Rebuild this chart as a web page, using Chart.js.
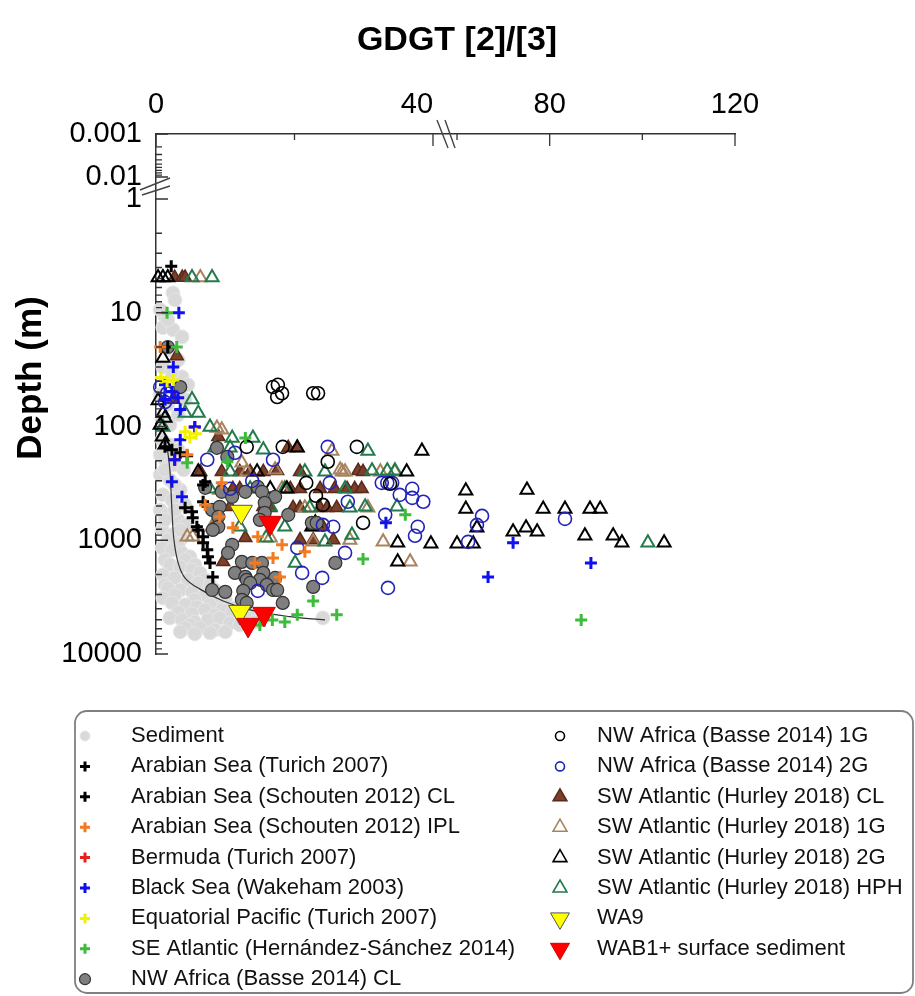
<!DOCTYPE html>
<html>
<head>
<meta charset="utf-8">
<title>GDGT [2]/[3] vs depth</title>
<script src="https://cdn.jsdelivr.net/npm/chart.js@4.4.1/dist/chart.umd.min.js"></script>
<style>
  html, body { margin: 0; padding: 0; background: #fff; }
  #wrap { width: 915px; height: 996px; }
</style>
</head>
<body>
<div id="wrap"><canvas id="depthChart" width="915" height="996"></canvas></div>
<script>
// ---- data: [GDGT 2/3 ratio, depth in m] ----
const sediment = [
  [2.45, 6.7], [2.74, 7.7], [1.3, 10.8], [1.0, 13.5], [2.45, 14.1], [3.75, 16.3], [2.0, 21], [1.0, 30],
  [3.75, 36.6], [4.6, 43], [0.6, 9.4], [1.7, 11.5], [3.2, 26], [2.3, 33], [0.6, 52.6], [1.7, 64],
  [4.2, 58], [3.2, 79], [0.9, 87], [2.0, 97],
  [0.9, 131], [2.0, 145], [3.2, 160], [1.3, 196], [2.7, 217], [4.0, 240], [0.6, 266], [2.0, 294],
  [3.5, 361], [1.0, 399], [2.3, 442], [4.2, 489], [0.6, 541], [1.7, 598], [3.2, 662], [4.3, 733],
  [0.9, 811], [2.3, 897], [3.75, 953], [3.2, 1096], [1.7, 993],
  [1.3, 240], [2.7, 326], [1.3, 662], [2.7, 541], [1.7, 177], [3.5, 811], [0.6, 177],
  [0.9, 1166], [2.3, 1213], [3.75, 1291], [4.9, 1400], [1.3, 1486], [4.2, 1486], [2.0, 1644], [5.6, 1644],
  [3.5, 1714], [5.2, 1820], [6.35, 1936], [1.0, 2014], [2.7, 2143], [4.6, 2228], [7.1, 2228], [6.1, 2371],
  [7.8, 2467], [1.3, 2467], [1.7, 2624], [3.5, 2735], [8.5, 2735], [5.2, 2844], [7.1, 3020], [2.7, 3020],
  [9.0, 3213], [1.0, 3213], [5.6, 3342], [10.0, 3342],
  [2.3, 3556], [4.2, 3698], [5.9, 3855], [7.8, 3698], [11.4, 3936], [9.5, 4093], [7.1, 4093], [11.0, 4266],
  [3.2, 4266], [5.2, 4436], [8.5, 4529], [13.6, 4529], [2.0, 4819], [3.75, 5012], [15.0, 5012], [5.6, 5224],
  [7.5, 5012], [9.2, 4819], [10.7, 5321], [12.1, 5546], [4.9, 5546], [6.35, 5892], [8.5, 6138], [4.2, 5892],
  [10.0, 6383], [3.5, 6383], [5.6, 6650], [7.8, 6515], [12.9, 4720], [24.1, 4819], [14.3, 5224]
];
const trendLine = [
  [1.6, 150], [2.0, 240], [2.3, 541], [2.6, 1000], [3.2, 1580], [4.2, 2150], [6.35, 2690],
  [9.7, 3420], [13.6, 4090], [19.35, 4700], [24.4, 5012]
];
const arabianTurich = [[2.2, 3.9], [1.7, 20], [1.3, 151], [2.3, 160], [3.5, 170], [4.5, 181], [7.1, 306]];
const arabianSchoutenCL = [
  [6.8, 326], [6.8, 459], [4.2, 519], [5.2, 562], [5.3, 635], [5.9, 762], [6.1, 811],
  [6.8, 933], [6.8, 1054], [7.4, 1213], [7.5, 1400], [7.8, 1581], [8.2, 2099]
];
const arabianSchoutenIPL = [
  [0.6, 20], [4.5, 177], [9.5, 313], [7.1, 489], [9.2, 622], [11.1, 778], [14.7, 933],
  [18.2, 1096], [21.5, 1265], [16.9, 1429], [14.3, 1581], [17.9, 2099]
];
const bermuda = [[2.7, 196], [5.6, 101]];
const blackSea = [
  [3.3, 10], [2.5, 30], [1.3, 43], [2.3, 49.5], [3.2, 56], [1.3, 58], [3.5, 71], [5.6, 101],
  [3.5, 131], [2.7, 196], [2.3, 306], [3.75, 415], [33.2, 703], [72.1, 1054], [66.7, 2099], [88.9, 1581]
];
const eqPacific = [[0.7, 37], [1.6, 40], [2.5, 39], [4.2, 111], [5.8, 116], [4.9, 125]];
const seAtlantic = [
  [1.6, 10], [3.0, 20], [12.9, 126], [10.3, 204], [4.5, 208], [36.0, 598], [29.9, 1459],
  [22.7, 3412], [26.1, 4529], [20.4, 4529], [18.6, 5224], [16.8, 5012], [15.0, 5546], [86.8, 5012]
];
const nwAfricaCL = [
  [1.7, 20], [3.5, 45], [8.8, 154], [10.3, 185], [7.1, 346], [9.5, 375], [11.0, 415], [12.9, 375],
  [14.7, 340], [15.3, 375], [17.2, 415], [15.7, 469], [8.1, 541], [9.2, 508], [9.0, 622], [15.7, 574],
  [19.1, 598], [15.0, 662], [22.5, 703], [23.2, 703], [9.0, 762], [8.2, 811], [11.0, 1096], [10.4, 1291],
  [12.4, 1549], [13.9, 1581], [15.3, 1581], [25.9, 1581], [11.4, 1936], [15.5, 1936], [12.9, 2099],
  [17.2, 2143], [13.1, 2228], [15.0, 2228], [16.0, 2467], [13.6, 2371], [22.7, 2570], [16.9, 2735],
  [8.1, 2735], [10.0, 2844], [12.6, 2786], [17.5, 2735], [12.4, 3342], [13.1, 3556], [18.3, 3556]
];
const nwAfrica1G = [
  [16.9, 45], [17.6, 43], [18.2, 51], [17.5, 55], [22.7, 51], [23.4, 51], [13.1, 151], [18.3, 151],
  [29.0, 151], [24.8, 204], [21.7, 313], [23.1, 406], [24.1, 489], [29.9, 703], [33.8, 319]
];
const nwAfrica2G = [
  [0.6, 45], [1.6, 51], [2.0, 55], [1.3, 61], [11.4, 170], [7.4, 196], [16.9, 196], [24.8, 151],
  [10.7, 353], [13.9, 301], [25.1, 313], [32.6, 313], [33.4, 313], [34.1, 313], [35.2, 399], [37.0, 353],
  [37.0, 424], [38.6, 459], [37.8, 762], [37.4, 914], [27.7, 459], [33.1, 598], [25.6, 762], [24.1, 733],
  [20.4, 1166], [27.3, 1291], [21.1, 1936], [24.0, 2143], [14.7, 2786], [33.5, 2624], [62.4, 1033],
  [64.3, 733], [65.4, 611], [83.3, 649]
];
const swAtlanticCL = [
  [2.7, 4.9], [3.8, 4.9], [4.2, 4.9], [3.0, 24], [2.5, 58], [9.0, 123], [19.1, 154], [20.4, 154],
  [6.4, 250], [9.5, 250], [12.1, 250], [13.6, 250], [15.5, 250], [17.5, 245], [20.8, 250], [29.2, 245],
  [29.9, 250], [11.1, 353], [12.1, 353], [14.6, 353], [19.4, 353], [20.8, 353], [23.7, 353], [25.8, 353],
  [27.6, 353], [28.7, 353], [29.7, 353], [10.7, 508], [15.5, 508], [16.5, 519], [19.8, 519], [20.8, 519],
  [23.7, 519], [24.7, 519], [26.1, 519], [22.7, 762], [24.1, 762], [8.2, 762], [20.8, 993], [22.7, 993],
  [25.6, 993], [12.9, 953], [9.7, 1549]
];
const swAtlantic1G = [
  [6.4, 4.9], [8.8, 103], [9.5, 107], [13.1, 250], [12.4, 208], [17.2, 240], [25.4, 164], [26.9, 250],
  [27.3, 250], [26.6, 240], [4.5, 933], [5.3, 933], [8.1, 762], [22.7, 1033], [30.6, 519], [32.8, 1033],
  [36.7, 1549], [18.2, 353], [21.5, 519], [16.5, 953], [28.0, 993], [32.4, 250], [34.5, 250], [9.2, 361]
];
const swAtlantic2G = [
  [0.3, 4.9], [1.0, 4.9], [1.7, 4.9], [1.0, 25], [0.3, 59], [1.0, 76], [1.3, 84], [0.6, 97], [0.9, 123],
  [1.3, 145], [6.1, 250], [14.6, 250], [16.5, 353], [18.9, 353], [20.4, 154], [22.5, 762], [23.0, 703],
  [36.2, 250], [38.4, 164], [34.9, 1054], [34.9, 1549], [39.7, 1076], [60.0, 1076], [63.5, 1076],
  [61.9, 368], [61.9, 530], [64.3, 778], [75.1, 361], [78.6, 530], [83.3, 530], [88.7, 530], [90.9, 530],
  [72.1, 843], [74.9, 778], [77.3, 843], [87.6, 914], [93.7, 914], [95.6, 1054], [104.7, 1054]
];
const swAtlanticHPH = [
  [5.2, 4.9], [8.1, 4.9], [5.2, 58], [4.2, 76], [6.1, 76], [1.0, 101], [7.8, 101], [11.0, 126],
  [14.0, 126], [15.5, 160], [30.6, 164], [21.5, 250], [24.4, 250], [31.2, 245], [33.4, 245], [34.5, 245],
  [30.2, 508], [34.8, 508], [28.3, 897], [20.1, 1581], [24.4, 1033], [10.7, 250], [7.8, 353], [13.6, 353],
  [16.5, 508], [18.6, 762], [12.1, 762], [15.9, 953], [101.2, 1054], [8.5, 154], [10.7, 154], [27.3, 353],
  [18.6, 353], [22.2, 519], [28.0, 519]
];
const wa9 = [[12.3, 562], [12.1, 4266]];
const wab1 = [[16.5, 703], [15.6, 4436], [13.3, 5546]];

const xTicks = [0, 40, 80, 120];
const xTickLabels = ['0', '40    ', '80', '120'];
const xMinorTicks = [20, 60, 100];
const yTicks = [0.001, 0.01, 1, 10, 100, 1000, 10000];
const yTickLabels = ['0.001', '0.01', '1', '10', '100', '1000', '10000'];

// broken axes: [value, fraction of axis length]; y works in log10(depth)
const X_BREAKS = [[0, 0], [40, 0.4784], [60, 0.5199], [120, 1]];
const Y_BREAKS = [[-3, 0], [-2, 0.0827], [0, 0.125], [4, 1]];

function piece(br, v) {
  for (let i = 0; i < br.length - 1; i++) {
    if (v <= br[i + 1][0] || i === br.length - 2) {
      const [v0, f0] = br[i], [v1, f1] = br[i + 1];
      return f0 + (v - v0) / (v1 - v0) * (f1 - f0);
    }
  }
  return 0;
}
function unpiece(br, f) {
  for (let i = 0; i < br.length - 1; i++) {
    if (f <= br[i + 1][1] || i === br.length - 2) {
      const [v0, f0] = br[i], [v1, f1] = br[i + 1];
      return v0 + (f - f0) / (f1 - f0) * (v1 - v0);
    }
  }
  return 0;
}

class BrokenScale extends Chart.LinearScale {
  static id = 'broken';
  buildTicks() {
    return (this.axis === 'x' ? xTicks : yTicks).map(v => ({ value: v }));
  }
  getPixelForValue(value) {
    const f = this.axis === 'x' ? piece(X_BREAKS, value) : piece(Y_BREAKS, Math.log10(value));
    return this.getPixelForDecimal(f);
  }
  getValueForPixel(pixel) {
    const f = this.getDecimalForPixel(pixel);
    return this.axis === 'x' ? unpiece(X_BREAKS, f) : Math.pow(10, unpiece(Y_BREAKS, f));
  }
}
Chart.register(BrokenScale);

const FONT = '"Liberation Sans", Arial, Helvetica, sans-serif';
Chart.defaults.font.family = FONT;
Chart.defaults.color = '#000';

const series = [
  { label: 'Sediment', data: sediment, style: 'circle', r: 7, fill: '#d9d9d9', stroke: '#e6e6e6', lw: 1, lr: 5, order: 100 },
  { label: 'Arabian Sea (Turich 2007)', data: arabianTurich, style: 'cross', r: 6, stroke: '#000', lw: 3, lr: 5, order: 30 },
  { label: 'Arabian Sea (Schouten 2012) CL', data: arabianSchoutenCL, style: 'cross', r: 6, stroke: '#000', lw: 3, lr: 5, order: 29 },
  { label: 'Arabian Sea (Schouten 2012) IPL', data: arabianSchoutenIPL, style: 'cross', r: 6, stroke: '#f47a20', lw: 3, lr: 5, order: 28 },
  { label: 'Bermuda (Turich 2007)', data: bermuda, style: 'cross', r: 6, stroke: '#e8201c', lw: 3, lr: 5, order: 95 },
  { label: 'Black Sea (Wakeham 2003)', data: blackSea, style: 'cross', r: 6, stroke: '#1010ee', lw: 3, lr: 5, order: 27 },
  { label: 'Equatorial Pacific (Turich 2007)', data: eqPacific, style: 'cross', r: 6, stroke: '#f2f200', lw: 3, lr: 5, order: 26 },
  { label: 'SE Atlantic (Hernández-Sánchez 2014)', data: seAtlantic, style: 'cross', r: 6, stroke: '#3dbb3d', lw: 3, lr: 5, order: 25 },
  { label: 'NW Africa (Basse 2014) CL', data: nwAfricaCL, style: 'circle', r: 6.5, fill: '#7f7f7f', stroke: '#333', lw: 1.2, lr: 5.5, order: 40 },
  { label: 'NW Africa (Basse 2014) 1G', data: nwAfrica1G, style: 'circle', r: 6.5, fill: 'rgba(0,0,0,0)', stroke: '#000', lw: 1.6, lr: 4.5, order: 35 },
  { label: 'NW Africa (Basse 2014) 2G', data: nwAfrica2G, style: 'circle', r: 6.5, fill: 'rgba(0,0,0,0)', stroke: '#2323b8', lw: 1.6, lr: 4.5, order: 36 },
  { label: 'SW Atlantic (Hurley 2018) CL', data: swAtlanticCL, style: 'triangle', r: 7.5, fill: '#7b3f2b', stroke: '#5a2a1a', lw: 1.5, lr: 8, order: 60 },
  { label: 'SW Atlantic (Hurley 2018) 1G', data: swAtlantic1G, style: 'triangle', r: 7.5, fill: 'rgba(0,0,0,0)', stroke: '#a8835f', lw: 2, lr: 8, order: 58 },
  { label: 'SW Atlantic (Hurley 2018) 2G', data: swAtlantic2G, style: 'triangle', r: 7.5, fill: 'rgba(0,0,0,0)', stroke: '#000', lw: 2, lr: 8, order: 55 },
  { label: 'SW Atlantic (Hurley 2018) HPH', data: swAtlanticHPH, style: 'triangle', r: 7.5, fill: 'rgba(0,0,0,0)', stroke: '#237a4c', lw: 2, lr: 8, order: 57 },
  { label: 'WA9', data: wa9, style: 'triangle', r: 13, rot: 180, fill: '#ffff00', stroke: '#555', lw: 1, lr: 11, order: 2 },
  { label: 'WAB1+ surface sediment', data: wab1, style: 'triangle', r: 13, rot: 180, fill: '#ff0000', stroke: '#d00000', lw: 1, lr: 11, order: 1 }
];

const datasets = series.map(s => ({
  label: s.label,
  data: s.data,
  pointStyle: s.style,
  pointRadius: s.r,
  pointRotation: s.rot || 0,
  backgroundColor: s.fill || s.stroke,
  borderColor: s.stroke,
  borderWidth: s.lw,
  order: s.order,
  clip: false,
  legendRadius: s.lr
}));
datasets.push({
  label: 'trend',
  data: trendLine,
  showLine: true,
  pointRadius: 0,
  borderColor: '#333',
  borderWidth: 1.2,
  tension: 0.4,
  order: 90
});

function drawMarker(ctx, style, x, y, r, fill, stroke, lw, rot) {
  ctx.save();
  ctx.translate(x, y);
  ctx.rotate((rot || 0) * Math.PI / 180);
  ctx.beginPath();
  if (style === 'circle') {
    ctx.arc(0, 0, r, 0, Math.PI * 2);
  } else if (style === 'cross') {
    ctx.moveTo(0, -r); ctx.lineTo(0, r);
    ctx.moveTo(-r, 0); ctx.lineTo(r, 0);
  } else {
    for (let k = 0; k < 3; k++) {
      const a = k * 2 * Math.PI / 3;
      const px = Math.sin(a) * r, py = -Math.cos(a) * r;
      if (k === 0) ctx.moveTo(px, py); else ctx.lineTo(px, py);
    }
    ctx.closePath();
  }
  if (fill && style !== 'cross') { ctx.fillStyle = fill; ctx.fill(); }
  if (lw) { ctx.lineWidth = lw; ctx.strokeStyle = stroke; ctx.stroke(); }
  ctx.restore();
}

const axisDecor = {
  id: 'axisDecor',
  afterDatasetsDraw(chart) {
    const { ctx, chartArea: a, scales: { x, y } } = chart;
    ctx.save();
    ctx.strokeStyle = '#333';
    ctx.lineWidth = 1.3;
    ctx.beginPath();
    xTicks.forEach(v => { const p = x.getPixelForValue(v); ctx.moveTo(p, a.top); ctx.lineTo(p, a.top + 12); });
    xMinorTicks.forEach(v => { const p = x.getPixelForValue(v); ctx.moveTo(p, a.top); ctx.lineTo(p, a.top + 6); });
    yTicks.forEach(v => { const p = y.getPixelForValue(v); ctx.moveTo(a.left, p); ctx.lineTo(a.left + 12, p); });
    [0.001, 1, 10, 100, 1000].forEach(dec => {
      for (let m = 2; m <= 9; m++) {
        const p = y.getPixelForValue(dec * m);
        ctx.moveTo(a.left, p); ctx.lineTo(a.left + 6, p);
      }
    });
    ctx.stroke();

    // axis breaks
    ctx.strokeStyle = '#444';
    ctx.lineWidth = 1.4;
    const bx = (x.getPixelForValue(40) + x.getPixelForValue(60)) / 2;
    const by = (y.getPixelForValue(0.01) + y.getPixelForValue(1)) / 2;
    ctx.beginPath();
    ctx.moveTo(bx - 8, a.top - 14); ctx.lineTo(bx + 3, a.top + 14);
    ctx.moveTo(bx, a.top - 14); ctx.lineTo(bx + 10, a.top + 14);
    ctx.moveTo(a.left - 16, by + 2); ctx.lineTo(a.left + 14, by - 10);
    ctx.moveTo(a.left - 14, by + 7); ctx.lineTo(a.left + 14, by - 2);
    ctx.stroke();
    ctx.restore();
  },
  afterDraw(chart) {
    const ctx = chart.ctx;
    ctx.save();
    // titles
    ctx.fillStyle = '#000';
    ctx.textAlign = 'center';
    ctx.textBaseline = 'middle';
    ctx.font = 'bold 34px ' + FONT;
    ctx.fillText('GDGT [2]/[3]', 457, 41);
    ctx.save();
    ctx.translate(31, 378);
    ctx.rotate(-Math.PI / 2);
    ctx.font = 'bold 35px ' + FONT;
    ctx.fillText('Depth (m)', 0, 0);
    ctx.restore();

    // legend frame
    const bx = 75, by = 711, bw = 838, bh = 282, br = 12;
    ctx.beginPath();
    ctx.moveTo(bx + br, by);
    ctx.arcTo(bx + bw, by, bx + bw, by + bh, br);
    ctx.arcTo(bx + bw, by + bh, bx, by + bh, br);
    ctx.arcTo(bx, by + bh, bx, by, br);
    ctx.arcTo(bx, by, bx + bw, by, br);
    ctx.closePath();
    ctx.strokeStyle = '#7f7f7f';
    ctx.lineWidth = 1.8;
    ctx.stroke();

    ctx.font = '22px ' + FONT;
    ctx.textBaseline = 'middle';
    ctx.textAlign = 'left';
    const items = chart.data.datasets.filter(d => d.legendRadius);
    items.forEach((d, i) => {
      const col = i < 9 ? 0 : 1;
      const row = col ? i - 9 : i;
      const yy = 736 + row * 30.4;
      const mx = col ? 560 : 85;
      const tx = col ? 597 : 131;
      const lw = d.pointStyle === 'cross' ? 3 : Math.min(d.borderWidth, 1.6);
      drawMarker(ctx, d.pointStyle, mx, yy, d.legendRadius, d.backgroundColor, d.borderColor, lw, d.pointRotation);
      ctx.fillStyle = '#111';
      ctx.fillText(d.label, tx, yy);
    });
    ctx.restore();
  }
};

new Chart(document.getElementById('depthChart'), {
  type: 'scatter',
  data: { datasets },
  options: {
    responsive: false,
    animation: false,
    events: [],
    layout: { padding: { left: 0, top: 0, right: 180, bottom: 342 } },
    scales: {
      x: {
        type: 'broken',
        axis: 'x',
        position: 'top',
        min: 0,
        max: 120,
        grid: { display: false, drawTicks: false },
        border: { display: true, color: '#333', width: 1.5 },
        ticks: {
          autoSkip: false,
          maxRotation: 0,
          padding: 12,
          font: { size: 29 },
          color: '#000',
          callback: (v, i) => xTickLabels[i]
        },
        afterFit: (scale) => { scale.height = 134; }
      },
      y: {
        type: 'broken',
        axis: 'y',
        position: 'left',
        reverse: true,
        min: 0.001,
        max: 10000,
        grid: { display: false, drawTicks: false },
        border: { display: true, color: '#333', width: 1.5 },
        ticks: {
          autoSkip: false,
          padding: 14,
          font: { size: 29 },
          color: '#000',
          callback: (v, i) => yTickLabels[i]
        },
        afterFit: (scale) => { scale.width = 156; }
      }
    },
    plugins: {
      legend: { display: false },
      tooltip: { enabled: false },
      title: { display: false }
    }
  },
  plugins: [axisDecor]
});
</script>
</body>
</html>
